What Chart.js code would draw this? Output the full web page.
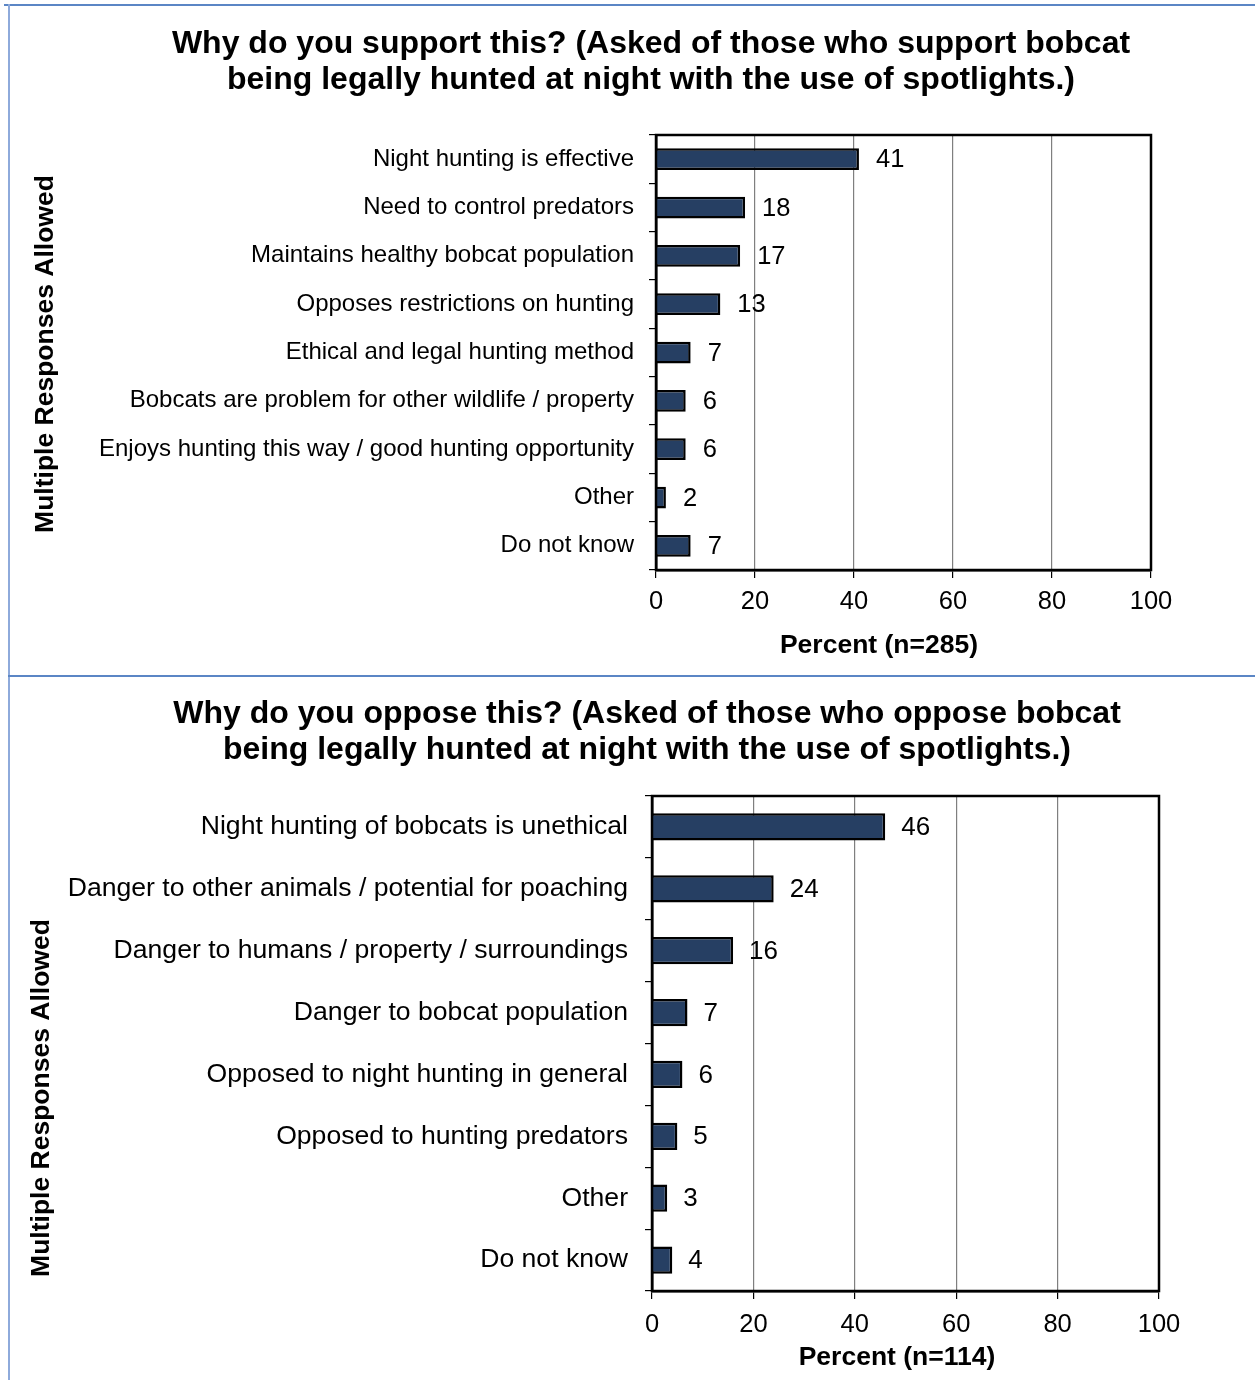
<!DOCTYPE html>
<html><head><meta charset="utf-8">
<script src="https://cdn.jsdelivr.net/npm/chart.js@4.4.1/dist/chart.umd.min.js"></script>
<style>
html,body{margin:0;padding:0;background:#fff;width:1255px;height:1380px;overflow:hidden;}
.wrap{position:absolute;left:0;}
.hl{position:absolute;height:2px;background:#5b86c5;}
.vl{position:absolute;width:2px;background:#8eaadb;}
</style></head><body>
<div class="wrap" style="top:0;width:1255px;height:676px;"><canvas id="c1" width="1255" height="676"></canvas></div>
<div class="wrap" style="top:676px;width:1255px;height:704px;"><canvas id="c2" width="1255" height="704"></canvas></div>
<div class="hl" style="left:4px;top:4px;width:1251px;"></div>
<div class="vl" style="left:8px;top:4px;height:1376px;"></div>
<div class="hl" style="left:8px;top:675px;width:1247px;"></div>
<script>
// ---- Data ----
const supportCategories = [
  "Night hunting is effective",
  "Need to control predators",
  "Maintains healthy bobcat population",
  "Opposes restrictions on hunting",
  "Ethical and legal hunting method",
  "Bobcats are problem for other wildlife / property",
  "Enjoys hunting this way / good hunting opportunity",
  "Other",
  "Do not know"
];
const supportValues = [41, 18, 17, 13, 7, 6, 6, 2, 7];

const opposeCategories = [
  "Night hunting of bobcats is unethical",
  "Danger to other animals / potential for poaching",
  "Danger to humans / property / surroundings",
  "Danger to bobcat population",
  "Opposed to night hunting in general",
  "Opposed to hunting predators",
  "Other",
  "Do not know"
];
const opposeValues = [46, 24, 16, 7, 6, 5, 3, 4];

const xTickValues = [0, 20, 40, 60, 80, 100];

const supportTitle = ["Why do you support this? (Asked of those who support bobcat",
                      "being legally hunted at night with the use of spotlights.)"];
const opposeTitle = ["Why do you oppose this? (Asked of those who oppose bobcat",
                     "being legally hunted at night with the use of spotlights.)"];
const supportXTitle = "Percent (n=285)";
const opposeXTitle = "Percent (n=114)";
const yTitle = "Multiple Responses Allowed";

// ---- Chart builder ----
const FONT = "'Liberation Sans', Arial, sans-serif";

function makeChart(id, categories, values, cfg) {
  const W = 1255, H = cfg.H;
  const xAxisH = 60;
  const decor = {
    id: 'decor' + id,
    afterDatasetsDraw(chart) {
      const ctx = chart.ctx, a = chart.chartArea;
      ctx.save();
      // frame
      ctx.strokeStyle = '#000';
      ctx.lineWidth = 2.5;
      ctx.strokeRect(a.left, a.top, a.right - a.left, a.bottom - a.top);
      // data labels
      const xs = chart.scales.x;
      const meta = chart.getDatasetMeta(0);
      ctx.fillStyle = '#000';
      ctx.font = cfg.valueFont + 'px ' + FONT;
      ctx.textAlign = 'left';
      ctx.textBaseline = 'middle';
      meta.data.forEach((bar, i) => {
        const v = values[i];
        ctx.fillText(String(v), xs.getPixelForValue(v) + cfg.labelOffset, bar.y + 1);
      });
      // titles
      ctx.textAlign = 'center';
      ctx.font = 'bold 32px ' + FONT;
      cfg.title.forEach((line, i) => ctx.fillText(line, cfg.titleX, cfg.titleY + i * 36));
      ctx.font = 'bold 26.5px ' + FONT;
      ctx.fillText(cfg.xTitle, cfg.xTitleX, cfg.xTitleY);
      ctx.translate(cfg.yTitleX, cfg.yTitleY);
      ctx.rotate(-Math.PI / 2);
      ctx.fillText(yTitle, 0, 0);
      ctx.restore();
    }
  };
  return new Chart(document.getElementById(id), {
    type: 'bar',
    data: {
      labels: categories,
      datasets: [{
        data: values,
        backgroundColor: '#263f63',
        borderColor: '#000',
        borderWidth: 2.5,
        borderSkipped: 'start',
        barPercentage: cfg.barPct,
        categoryPercentage: 1
      }]
    },
    options: {
      indexAxis: 'y',
      responsive: false,
      animation: false,
      devicePixelRatio: 1,
      layout: { padding: { top: cfg.top, right: W - cfg.right, bottom: H - cfg.bottom - xAxisH, left: 0 } },
      plugins: { legend: { display: false }, tooltip: { enabled: false }, title: { display: false } },
      scales: {
        x: {
          type: 'linear', min: 0, max: 100,
          afterBuildTicks: s => { s.ticks = xTickValues.map(v => ({ value: v })); },
          afterFit: s => { s.height = xAxisH; },
          ticks: { color: '#000', font: { family: FONT, size: cfg.tickFont }, padding: cfg.xTickPad, maxRotation: 0 },
          grid: { color: '#7f7f7f', lineWidth: 1.2, tickLength: 8, tickColor: '#000' },
          border: { display: true, color: '#000', width: 2.5 }
        },
        y: {
          type: 'category',
          afterFit: s => { s.width = cfg.left; },
          ticks: { color: '#000', font: { family: FONT, size: cfg.catFont }, padding: cfg.yTickPad, autoSkip: false },
          grid: { drawOnChartArea: false, offset: true, tickLength: 7, color: '#000', lineWidth: 1.2 },
          border: { display: true, color: '#000', width: 2.5 }
        }
      }
    },
    plugins: [decor]
  });
}

makeChart('c1', supportCategories, supportValues, {
  H: 676, left: 656, right: 1151, top: 135, bottom: 570,
  barPct: 0.45, catFont: 24, tickFont: 25.5, valueFont: 25.5,
  yTickPad: 15, xTickPad: 9, labelOffset: 17,
  title: supportTitle, titleX: 651, titleY: 44,
  xTitle: supportXTitle, xTitleX: 879, xTitleY: 646,
  yTitleX: 46, yTitleY: 354
});

makeChart('c2', opposeCategories, opposeValues, {
  H: 704, left: 652, right: 1159, top: 120, bottom: 615,
  barPct: 0.44, catFont: 26.6, tickFont: 25.5, valueFont: 26,
  yTickPad: 17, xTickPad: 11, labelOffset: 16,
  title: opposeTitle, titleX: 647, titleY: 38,
  xTitle: opposeXTitle, xTitleX: 897, xTitleY: 682,
  yTitleX: 42, yTitleY: 422
});
</script>
</body></html>
